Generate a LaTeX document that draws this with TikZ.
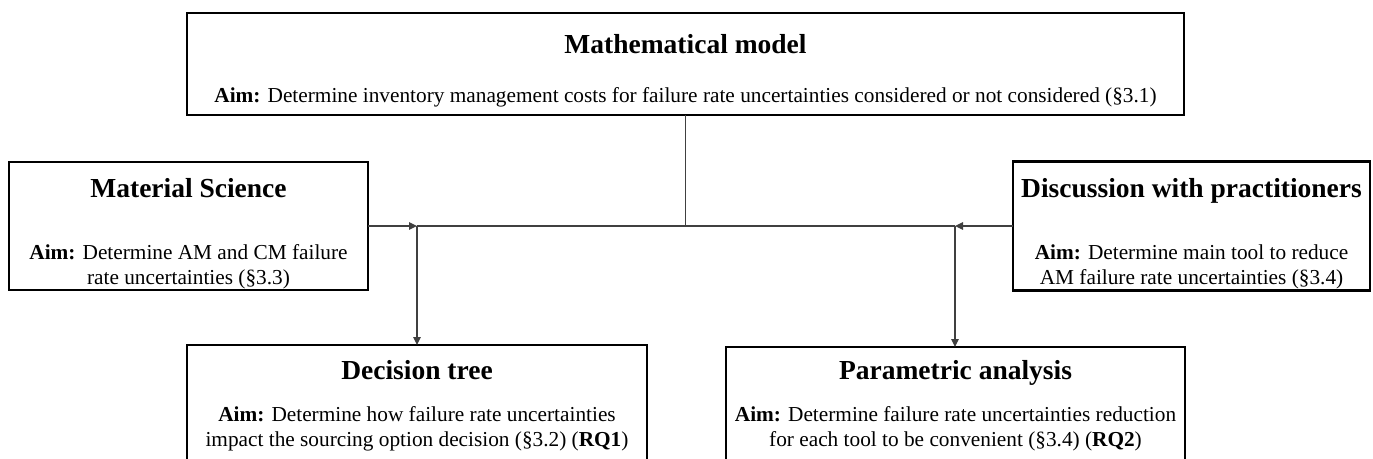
\documentclass[tikz,border=0pt]{standalone}
\usepackage{fontspec}
\setmainfont{Liberation Serif}
\usetikzlibrary{arrows.meta}
\begin{document}
\begin{tikzpicture}[x=1pt,y=-1pt,
  box/.style={draw,line width=2.4pt,inner sep=0pt,outer sep=0pt},
  ttl/.style={font=\fontsize{27.5}{32}\selectfont\bfseries,anchor=base,inner sep=0pt},
  aim/.style={font=\fontsize{21.3}{25.5}\selectfont,align=center,inner sep=0pt},
  conn/.style={line width=1.2pt,draw=black!75},
  arr/.style={conn,-{Triangle[length=8pt,width=7.5pt]}}]
\useasboundingbox (0,0) rectangle (1373,458);
\clip (0,0) rectangle (1373,458);
% boxes
\node[box,minimum width=997pt,minimum height=102pt] (mm) at (685.5,64) {};
\node[box,minimum width=359pt,minimum height=128pt] (ms) at (188.5,226) {};
\node[box,minimum width=357pt,minimum height=129pt] (dp) at (1191.5,226) {};
\node[box,minimum width=460pt,minimum height=120pt] (dt) at (417,405) {};
\node[box,minimum width=459pt,minimum height=118pt] (pa) at (955.5,406) {};
% texts
\node[ttl] (mmt) at (685.5,53) {Mathematical model};
\node[aim] (mma) at (685.5,97) {\textbf{Aim:} Determine inventory management costs for failure rate uncertainties considered or not considered (§3.1)};
\node[ttl] (mst) at (188.5,197) {Material Science};
\node[aim] (msa) at (188.5,267) {\textbf{Aim:} Determine AM and CM failure\\rate uncertainties (§3.3)};
\node[ttl] (dpt) at (1191.5,197) {Discussion with practitioners};
\node[aim] (dpa) at (1191.5,267) {\textbf{Aim:} Determine main tool to reduce\\AM failure rate uncertainties (§3.4)};
\node[ttl] (dtt) at (417,379) {Decision tree};
\node[aim] (dta) at (417,429) {\textbf{Aim:} Determine how failure rate uncertainties\\impact the sourcing option decision (§3.2) (\textbf{RQ1})};
\node[ttl] (pat) at (955.5,379) {Parametric analysis};
\node[aim] (paa) at (955.5,429) {\textbf{Aim:} Determine failure rate uncertainties reduction\\for each tool to be convenient (§3.4) (\textbf{RQ2})};
% connectors
\coordinate (jl) at (417,226);
\coordinate (jr) at (955,226);
\draw[conn] (mm.south) -- (mm.south |- jl);
\draw[conn] (jl) -- (jr);
\draw[arr] (ms.east) -- (jl);
\draw[arr] (dp.west) -- (jr);
\draw[arr] (jl) -- (jl |- dt.north);
\draw[arr] (jr) -- (jr |- pa.north);
\end{tikzpicture}
\end{document}
